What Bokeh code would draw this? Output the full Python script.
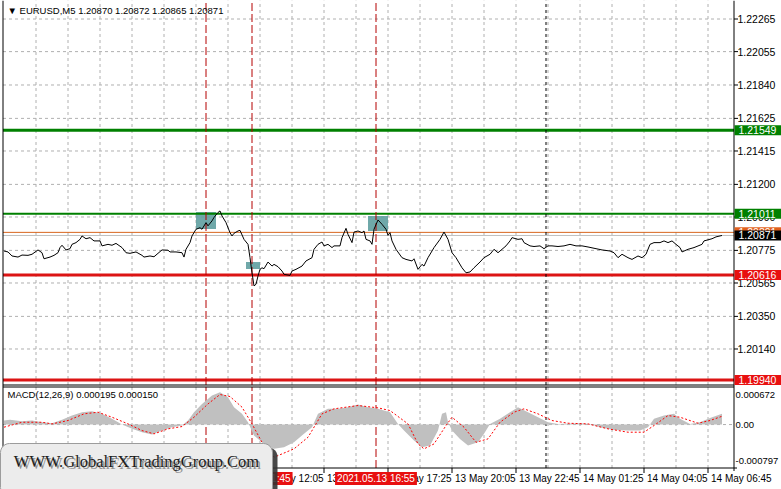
import math
from bokeh.plotting import figure
from bokeh.models import Range1d, Label
from bokeh.core.properties import value
from bokeh.embed import file_html
from bokeh.resources import INLINE

# ---------------- data (time = minutes after 13 May 00:00, M5 bars) ----------------
price_points = [
    (85, 1.20771), (95, 1.20765), (105, 1.20739), (120, 1.20732), (130, 1.20745), (145, 1.20743),
    (155, 1.20750), (170, 1.20778), (180, 1.20760), (185, 1.20721), (200, 1.20732), (210, 1.20743),
    (220, 1.20760), (225, 1.20793), (230, 1.20808), (240, 1.20778), (250, 1.20786), (255, 1.20814),
    (265, 1.20825), (275, 1.20846), (280, 1.20868), (290, 1.20850), (300, 1.20857), (310, 1.20836),
    (325, 1.20836), (330, 1.20804), (345, 1.20814), (355, 1.20808), (365, 1.20820), (380, 1.20793),
    (390, 1.20760), (400, 1.20756), (415, 1.20765), (430, 1.20743), (435, 1.20732), (450, 1.20739),
    (460, 1.20734), (470, 1.20756), (480, 1.20778), (495, 1.20776), (500, 1.20765), (515, 1.20765),
    (530, 1.20760), (535, 1.20732), (540, 1.20782), (550, 1.20825), (555, 1.20868), (565, 1.20911),
    (575, 1.20921), (580, 1.20911), (590, 1.20954), (595, 1.20933), (605, 1.20965), (610, 1.20987),
    (620, 1.21019), (625, 1.21029), (630, 1.20997), (640, 1.20954), (650, 1.20889), (655, 1.20868),
    (660, 1.20885), (670, 1.20900), (675, 1.20904), (685, 1.20846), (695, 1.20814), (700, 1.20728),
    (705, 1.20631), (710, 1.20546), (715, 1.20557), (720, 1.20610), (725, 1.20653), (730, 1.20663),
    (735, 1.20657), (745, 1.20700), (755, 1.20674), (760, 1.20685), (770, 1.20670), (780, 1.20642),
    (785, 1.20621), (800, 1.20614), (805, 1.20642), (815, 1.20653), (830, 1.20674), (840, 1.20707),
    (855, 1.20728), (860, 1.20782), (870, 1.20814), (880, 1.20829), (885, 1.20804), (895, 1.20814),
    (905, 1.20793), (910, 1.20804), (925, 1.20804), (930, 1.20857), (940, 1.20917), (945, 1.20878),
    (955, 1.20825), (960, 1.20893), (970, 1.20900), (980, 1.20889), (985, 1.20900), (990, 1.20846),
    (1000, 1.20836), (1005, 1.20814), (1010, 1.20911), (1020, 1.20971), (1030, 1.20943), (1040, 1.20911),
    (1045, 1.20872), (1050, 1.20889), (1055, 1.20836), (1065, 1.20782), (1080, 1.20728), (1090, 1.20717),
    (1105, 1.20707), (1110, 1.20721), (1120, 1.20653), (1130, 1.20685), (1135, 1.20674), (1145, 1.20728),
    (1155, 1.20771), (1160, 1.20793), (1175, 1.20846), (1185, 1.20893), (1195, 1.20846), (1205, 1.20760),
    (1215, 1.20728), (1230, 1.20663), (1240, 1.20631), (1250, 1.20636), (1260, 1.20663), (1275, 1.20700),
    (1285, 1.20728), (1300, 1.20750), (1310, 1.20782), (1320, 1.20760), (1330, 1.20782), (1340, 1.20804),
    (1350, 1.20836), (1355, 1.20857), (1370, 1.20846), (1380, 1.20850), (1385, 1.20825), (1400, 1.20804),
    (1410, 1.20800), (1425, 1.20804), (1435, 1.20786), (1445, 1.20804), (1455, 1.20804), (1470, 1.20800),
    (1485, 1.20804), (1500, 1.20814), (1515, 1.20804), (1530, 1.20804), (1545, 1.20797), (1565, 1.20786),
    (1580, 1.20778), (1600, 1.20771), (1610, 1.20760), (1620, 1.20728), (1630, 1.20750), (1645, 1.20728),
    (1655, 1.20717), (1670, 1.20739), (1680, 1.20728), (1690, 1.20750), (1700, 1.20814), (1710, 1.20825),
    (1725, 1.20825), (1735, 1.20836), (1745, 1.20825), (1755, 1.20836), (1765, 1.20814), (1775, 1.20793),
    (1780, 1.20765), (1795, 1.20782), (1810, 1.20793), (1830, 1.20814), (1835, 1.20836), (1855, 1.20850),
    (1865, 1.20862), (1880, 1.20871),
]
price_time = [t for t, _ in price_points]
price_close = [v for _, v in price_points]

# MACD main (histogram) in millionths
macd_points = [
    (85, 73), (100, 85), (130, 60), (155, 73), (180, 42), (205, 24), (230, 85), (255, 163), (280, 224),
    (305, 242), (330, 194), (355, 103), (380, 0), (405, -78), (430, -139), (455, -182), (480, -109),
    (505, -48), (530, -18), (545, 73), (560, 224), (580, 375), (605, 526), (625, 587), (645, 496),
    (660, 315), (680, 194), (695, 42), (710, -200), (735, -351), (760, -441), (785, -412), (810, -321),
    (835, -169), (855, -48), (870, 194), (895, 285), (920, 285), (945, 315), (970, 363), (995, 315),
    (1020, 285), (1050, 224), (1070, 12), (1085, -109), (1110, -290), (1130, -412), (1150, -381),
    (1170, -109), (1180, 194), (1190, 224), (1195, 42), (1205, -109), (1225, -260), (1245, -381),
    (1270, -321), (1285, -169), (1300, 12), (1325, 103), (1350, 224), (1370, 315), (1395, 224),
    (1420, 133), (1445, 42), (1470, 12), (1525, 24), (1550, 12), (1575, -48), (1610, -97), (1645, -109),
    (1675, -109), (1695, -48), (1710, 103), (1735, 163), (1760, 194), (1775, 103), (1800, 12),
    (1825, 42), (1850, 121), (1880, 195),
]
macd_time = [t for t, _ in macd_points]
macd_main = [v * 1e-6 for _, v in macd_points]

signal_points = [
    (85, -48), (130, 42), (180, 42), (205, 12), (245, 73), (285, 194), (320, 224), (355, 133), (395, 12),
    (430, -109), (460, -169), (495, -78), (530, -36), (560, 133), (595, 375), (625, 545), (650, 508),
    (680, 315), (705, 12), (730, -321), (760, -593), (810, -441), (845, -230), (880, 194), (910, 285),
    (970, 345), (1020, 303), (1050, 254), (1095, 12), (1120, -351), (1135, -441), (1160, -351),
    (1190, -18), (1205, 133), (1235, -48), (1265, -321), (1295, -260), (1325, 42), (1360, 224),
    (1385, 285), (1420, 194), (1455, 73), (1495, 24), (1545, 12), (1595, -78), (1645, -139),
    (1685, -139), (1710, -18), (1745, 163), (1775, 133), (1820, 24), (1850, 73), (1880, 150),
]
signal_time = [t for t, _ in signal_points]
macd_signal = [v * 1e-6 for _, v in signal_points]

price_ticks = [1.22265, 1.22055, 1.21840, 1.21625, 1.21415, 1.21200, 1.20990,
               1.20775, 1.20565, 1.20350, 1.20140]
macd_max, macd_min = 0.000672, -0.000797
macd_tick_values = [macd_max, 0.0, macd_min]
macd_tick_labels = ["0.000672", "0.00", "-0.000797"]

x_tick_times = [85, 245, 405, 565, 725, 885, 1045, 1205, 1365, 1525, 1685, 1845]
x_tick_labels = ["13 May 01:25", "13 May 04:05", "13 May 06:45", "13 May 09:25", "13 May 12:05",
                 "13 May 14:45", "13 May 17:25", "13 May 20:05", "13 May 22:45", "14 May 01:25",
                 "14 May 04:05", "14 May 06:45"]
grid_times = [165, 245, 325, 405, 485, 565, 645, 725, 805, 885, 965, 1045, 1125, 1205, 1285,
              1365, 1445, 1525, 1605, 1685, 1765, 1845]

level_values = [1.21549, 1.21011, 1.20616, 1.19940]
orange_level = 1.20891
bid_level = 1.20871

event_times = [590, 705, 1015]
event_labels = ["2021.05.13 09:50", "2021.05.13 11:45", "2021.05.13 16:55"]
day_separator = 1440

zone_t0 = [565, 690, 995]
zone_t1 = [615, 725, 1045]
zone_hi = [1.21022, 1.20700, 1.20996]
zone_lo = [1.20913, 1.20655, 1.20900]

title_text = "\u25bc EURUSD,M5  1.20870 1.20872 1.20865 1.20871"
macd_title = "MACD(12,26,9) 0.000195 0.000150"
watermark = "WWW.GlobalFXTradingGroup.Com"

# ---------------- pixel layout (style) ----------------
W, H = 781, 489
MIN_PER_PX = 2.5
X_REF, T_REF = 3.5, 85
PRICE_PX, Y_PREF, P_REF = 15529.4, 18.5, 1.22265
MACD_PX, Y_MREF = 81 / 0.001469, 387
FR_L, FR_R = 2.5, 733.5
MAIN_T, MAIN_B = 0, 384.5
MACD_T, MACD_B = 386.5, 467.5
LAB_X, AXIS_ROW = 737, 478

FONT = "Liberation Sans"
FS = "10px"
FS_Y = "10.5px"
GREEN = "#008000"
RED = "#dc1414"
TAG_RED = "#e81010"
EVENT_RED = "#b40000"
GRID = "#b0b0b0"


def tx(x):
    return T_REF + (x - X_REF) * MIN_PER_PX


def py(y):
    return P_REF - (y - Y_PREF) / PRICE_PX


def my(y):
    return macd_max - (y - Y_MREF) / MACD_PX


p = figure(width=W, height=H, x_range=Range1d(tx(0), tx(W)), y_range=Range1d(py(H), py(0)),
           x_axis_location=None, y_axis_location=None, output_backend="svg",
           toolbar_location=None, min_border=0, outline_line_color=None,
           background_fill_color="white", border_fill_color="white")
p.extra_y_ranges = {"macd": Range1d(my(H), my(0))}
p.grid.visible = False

# grids
n = len(price_ticks)
p.segment(x0=[tx(FR_L)] * n, y0=price_ticks, x1=[tx(FR_R)] * n, y1=price_ticks,
          line_color=GRID, line_dash="3 3", line_width=1)
p.segment(x0=grid_times, y0=py(MAIN_B), x1=grid_times, y1=py(MAIN_T),
          line_color=GRID, line_dash="3 3", line_width=1)
p.segment(x0=grid_times, y0=my(MACD_B), x1=grid_times, y1=my(MACD_T), y_range_name="macd",
          line_color=GRID, line_dash="3 3", line_width=1)
p.segment(x0=tx(FR_L), y0=0.0, x1=tx(FR_R), y1=0.0, y_range_name="macd",
          line_color=GRID, line_dash="3 3", line_width=1)

# zones
p.quad(left=zone_t0, right=zone_t1, top=zone_hi, bottom=zone_lo,
       fill_color="#5f9ea0", fill_alpha=0.9, line_color=None)

# horizontal levels
level_colors = [GREEN, GREEN, RED, RED]
level_widths = [3, 2, 3, 3]
for v, c, w in zip(level_values, level_colors, level_widths):
    p.segment(x0=tx(FR_L), y0=v, x1=tx(FR_R), y1=v, line_color=c, line_width=w)
p.segment(x0=tx(FR_L), y0=orange_level, x1=tx(FR_R), y1=orange_level,
          line_color="#d8651e", line_width=1)
p.segment(x0=tx(FR_L), y0=bid_level, x1=tx(FR_R), y1=bid_level,
          line_color="#c0c0c0", line_width=1)

# event lines and day separator in both panels
p.segment(x0=event_times, y0=py(MAIN_B), x1=event_times, y1=py(MAIN_T),
          line_color=EVENT_RED, line_dash="8 3", line_width=1)
p.segment(x0=event_times, y0=my(MACD_B), x1=event_times, y1=my(MACD_T), y_range_name="macd",
          line_color=EVENT_RED, line_dash="8 3", line_width=1)
p.segment(x0=day_separator, y0=py(MAIN_B), x1=day_separator, y1=py(MAIN_T),
          line_color="black", line_dash="3 3", line_width=1)
p.segment(x0=day_separator, y0=my(MACD_B), x1=day_separator, y1=my(MACD_T), y_range_name="macd",
          line_color="black", line_dash="3 3", line_width=1)

# price line
p.line(price_time, price_close, line_color="black", line_width=1)

# MACD
p.varea(x=macd_time, y1=0.0, y2=macd_main, fill_color="#c0c0c0", y_range_name="macd")
p.line(signal_time, macd_signal, line_color="#ff0000", line_dash="2 2", line_width=1,
       y_range_name="macd")

# panel frames and axes lines
p.segment(x0=[tx(FR_L), tx(FR_L), tx(FR_L), tx(FR_L), tx(FR_R)],
          y0=[py(MAIN_T), py(MAIN_B), py(MACD_T), py(MACD_B), py(0)],
          x1=[tx(FR_L), tx(FR_R), tx(FR_R), tx(FR_R + 3), tx(FR_R)],
          y1=[py(MACD_B), py(MAIN_B), py(MACD_T), py(MACD_B), py(MACD_B + 3)],
          line_color="black", line_width=1)
# price axis ticks
p.segment(x0=[tx(FR_R)] * n, y0=price_ticks, x1=[tx(FR_R + 4)] * n, y1=price_ticks,
          line_color="black", line_width=1)
# time axis ticks
m = len(x_tick_times)
p.segment(x0=x_tick_times, y0=[py(MACD_B)] * m, x1=x_tick_times, y1=[py(MACD_B + 5)] * m,
          line_color="black", line_width=1)


def text(x, y, s, **kw):
    opts = dict(text_font=FONT, text_font_size=FS, text_color="black",
                text_baseline="middle", text_align="left")
    opts.update(kw)
    p.add_layout(Label(x=x, y=y, text=s, **opts))


# titles
text(tx(7), py(10), title_text, text_font_size="9.5px")
text(tx(7), my(394), macd_title, y_range_name="macd", text_font_size="9.5px")

# price axis labels
for v in price_ticks:
    text(tx(LAB_X), v, "%.5f" % v, text_font_size=FS_Y)
for v, s in zip(macd_tick_values, macd_tick_labels):
    yy = max(min(v, my(Y_MREF + 7)), my(MACD_B - 7))
    text(tx(LAB_X - 2), yy, s, y_range_name="macd", text_font_size="9.5px")

# price tags
tag_values = [level_values[0], level_values[1], orange_level, bid_level, level_values[2],
              level_values[3]]
tag_colors = [GREEN, GREEN, "#e0601e", "black", TAG_RED, TAG_RED]
for v, c in zip(tag_values, tag_colors):
    text(tx(FR_R + 0.5), v, "%.5f" % v, text_color="white", background_fill_color=c,
         text_font_size=FS_Y, padding=dict(left=4, right=12, top=1, bottom=1))

# time axis labels
for t, s in zip(x_tick_times, x_tick_labels):
    text(t, py(AXIS_ROW), s, x_offset=3)
for t, s in zip(event_times, event_labels):
    text(t, py(AXIS_ROW), s, text_color="white", text_align="center",
         background_fill_color=TAG_RED, padding=dict(left=2, right=2, top=1, bottom=1))


# watermark badge (drawn on the overlay level, above all labels)
def rounded_box(x0, y0, x1, y1, r, steps=6):
    pts = []
    corners = [(x1 - r, y0 + r, -90, 0), (x1 - r, y1 - r, 0, 90),
               (x0 + r, y1 - r, 90, 180), (x0 + r, y0 + r, 180, 270)]
    for cx, cy, a0, a1 in corners:
        for k in range(steps + 1):
            a = math.radians(a0 + (a1 - a0) * k / steps)
            pts.append((cx + r * math.cos(a), cy + r * math.sin(a)))
    return [tx(x) for x, _ in pts], [py(y) for _, y in pts]


sx, sy = rounded_box(4, 447, 277, 500, 9)
p.patch(sx, sy, fill_color="#333333", fill_alpha=0.9, line_color=None, level="overlay")
bx, by = rounded_box(0, 443, 272, 496, 9)
p.patch(bx, by, fill_color="#ececec", line_color="#9c9c9c", line_width=1, level="overlay")
wm_font = value("Liberation Serif")
p.text(x=[tx(138)], y=[py(463)], text=[watermark], text_font=wm_font,
       text_font_size=value("16.5px"), text_color="#7a7a7a", text_alpha=0.8,
       text_align="center", text_baseline="middle", level="overlay")
p.text(x=[tx(136)], y=[py(461)], text=[watermark], text_font=wm_font,
       text_font_size=value("16.5px"), text_color="#1c1c1c",
       text_align="center", text_baseline="middle", level="overlay")

open("out.html", "w").write(file_html(p, INLINE))
